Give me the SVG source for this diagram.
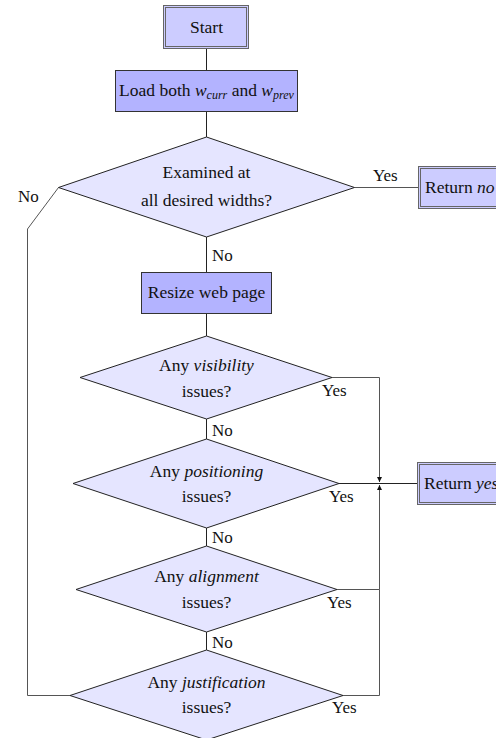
<svg xmlns="http://www.w3.org/2000/svg" width="496" height="738" viewBox="0 0 496 738">
  <style>
    text { font-family: "Liberation Serif", "Times New Roman", serif; font-size: 17.5px; fill: #111; }
    .c { text-anchor: middle; }
    .i { font-style: italic; }
    .sub { font-style: italic; font-size: 12px; }
    .lbl { font-size: 17px; }
    .term { fill: #ccccff; stroke: #666; stroke-width: 1; }
    .termin { fill: none; stroke: #666; stroke-width: 1; }
    .proc { fill: #b3b3ff; stroke: #333; stroke-width: 1; }
    .dec { fill: #e5e5ff; stroke: #222; stroke-width: 1; }
    .edge { fill: none; stroke: #222; stroke-width: 1; }
    .edge-g { fill: none; stroke: #555; stroke-width: 1; }
  </style>
  <defs>
    <marker id="tip" viewBox="0 0 6 6" refX="6" refY="3" markerWidth="5" markerHeight="5" orient="auto" markerUnits="userSpaceOnUse">
      <path d="M0,0 L6,3 L0,6 z" fill="#111"/>
    </marker>
  </defs>

  <!-- connectors -->
  <g id="connectors">
    <path class="edge" d="M206.5,49 V70"/>
    <path class="edge" d="M206.5,112 V137"/>
    <path class="edge" d="M206.5,237 V272"/>
    <path class="edge" d="M206.5,314 V336"/>
    <path class="edge" d="M206.5,419 V439"/>
    <path class="edge" d="M206.5,528 V546"/>
    <path class="edge" d="M206.5,632 V650"/>
    <path class="edge-g" d="M354.5,187.5 H418"/>
    <path class="edge-g" d="M70,695.5 H27.5 V229 L58.5,187.5"/>
    <path class="edge-g" d="M332,377.5 H379.5 V482" marker-end="url(#tip)"/>
    <path class="edge-g" d="M337,589.5 H379.5 V485" marker-end="url(#tip)"/>
    <path class="edge-g" d="M343,695.5 H379.5 V589.5"/>
    <path class="edge" d="M339,483.5 H417"/>
    <!-- edge labels -->
    <text class="lbl" x="373" y="181">Yes</text>
    <text class="lbl" x="18" y="202">No</text>
    <text class="lbl" x="212" y="261">No</text>
    <text class="lbl" x="322" y="396">Yes</text>
    <text class="lbl" x="212" y="436">No</text>
    <text class="lbl" x="329" y="502">Yes</text>
    <text class="lbl" x="212" y="543">No</text>
    <text class="lbl" x="327" y="608">Yes</text>
    <text class="lbl" x="212" y="648">No</text>
    <text class="lbl" x="332" y="713">Yes</text>
  </g>

  <g id="start">
    <rect class="term" x="163.5" y="5.5" width="85" height="43"/>
    <rect class="termin" x="165.5" y="7.5" width="81" height="39"/>
    <text class="c" x="206.5" y="33">Start</text>
  </g>

  <g id="load">
    <rect class="proc" x="115.5" y="70.5" width="182" height="41"/>
    <text class="c" x="206.5" y="96">Load both <tspan class="i">w</tspan><tspan class="sub" dy="3">curr</tspan><tspan dy="-3"> and </tspan><tspan class="i">w</tspan><tspan class="sub" dy="3">prev</tspan></text>
  </g>

  <g id="examined">
    <polygon class="dec" points="206.5,137 354.5,187.5 206.5,237 58.5,187.5"/>
    <text class="c" x="206.5" y="178">Examined at</text>
    <text class="c" x="206.5" y="206">all desired widths?</text>
  </g>

  <g id="return-no">
    <rect class="term" x="418.5" y="166.5" width="84" height="42"/>
    <rect class="termin" x="420.5" y="168.5" width="80" height="38"/>
    <text x="425" y="193">Return <tspan class="i">no</tspan></text>
  </g>

  <g id="resize">
    <rect class="proc" x="141.5" y="272.5" width="130" height="41"/>
    <text class="c" x="206.5" y="298">Resize web page</text>
  </g>

  <g id="visibility">
    <polygon class="dec" points="206.5,336 332,377.5 206.5,419 80,377.5"/>
    <text class="c" x="206.5" y="371">Any <tspan class="i">visibility</tspan></text>
    <text class="c" x="206.5" y="397">issues?</text>
  </g>

  <g id="positioning">
    <polygon class="dec" points="206.5,439 339,483.5 206.5,528 73,483.5"/>
    <text class="c" x="206.5" y="477">Any <tspan class="i">positioning</tspan></text>
    <text class="c" x="206.5" y="502">issues?</text>
  </g>

  <g id="return-yes">
    <rect class="term" x="417.5" y="462.5" width="85" height="42"/>
    <rect class="termin" x="419.5" y="464.5" width="81" height="38"/>
    <text x="424" y="489">Return <tspan class="i">yes</tspan></text>
  </g>

  <g id="alignment">
    <polygon class="dec" points="206.5,546 337,589.5 206.5,632 76,589.5"/>
    <text class="c" x="206.5" y="582">Any <tspan class="i">alignment</tspan></text>
    <text class="c" x="206.5" y="608">issues?</text>
  </g>

  <g id="justification">
    <polygon class="dec" points="206.5,650 343,695.5 206.5,740 70,695.5"/>
    <text class="c" x="206.5" y="688">Any <tspan class="i">justification</tspan></text>
    <text class="c" x="206.5" y="713">issues?</text>
  </g>
</svg>
